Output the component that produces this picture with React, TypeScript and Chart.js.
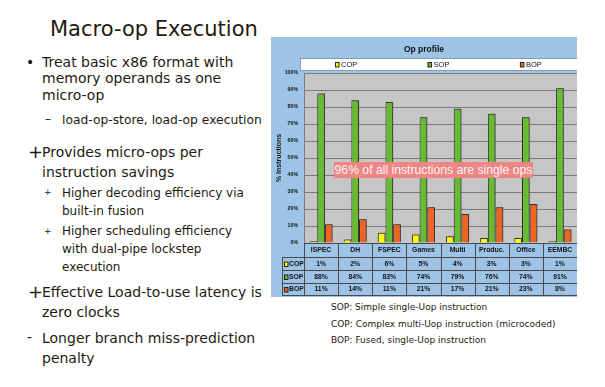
import React, { useEffect, useRef } from "react";
import { Chart, registerables } from "chart.js";

Chart.register(...registerables);

// ---- data ----
const categories = ["ISPEC", "DH", "FSPEC", "Games", "Multi", "Produc.", "Office", "EEMBC"];
const seriesLabels = ["COP", "SOP", "BOP"];
const copValues = [1, 2, 6, 5, 4, 3, 3, 1];
const sopValues = [88, 84, 83, 74, 79, 76, 74, 91];
const bopValues = [11, 14, 11, 21, 17, 21, 23, 8];
const yMin = 0;
const yMax = 100;
const yStep = 10;
const chartTitle = "Op profile";
const yAxisTitle = "% Instructions";
const calloutText = "96% of all instructions are single ops";

const seriesColors = ["#ffff00", "#66bb33", "#f06423"];
const FONT = "'Liberation Sans', Arial, sans-serif";

const panelPlugin = {
  id: "panelPlugin",
  beforeDraw(chart: any) {
    const { ctx, width, height, chartArea: ca } = chart;
    ctx.save();
    ctx.fillStyle = "#9dc3e6";
    ctx.fillRect(0, 0, width, height);
    ctx.fillStyle = "#c6c6c6";
    ctx.fillRect(ca.left, ca.top, ca.right - ca.left, ca.bottom - ca.top);
    // title
    ctx.fillStyle = "#111";
    ctx.font = `bold 8.5px ${FONT}`;
    ctx.textAlign = "center";
    ctx.textBaseline = "middle";
    ctx.fillText(chartTitle, width / 2, 13);
    // legend box
    const lx = 29, ly = 21, lw = width - lx, lh = 13;
    ctx.fillStyle = "#ffffff";
    ctx.fillRect(lx, ly, lw, lh);
    ctx.strokeStyle = "#8a9db0";
    ctx.lineWidth = 1;
    ctx.strokeRect(lx + 0.5, ly + 0.5, lw, lh - 1);
    ctx.font = `7.5px ${FONT}`;
    ctx.textAlign = "left";
    const ds = chart.data.datasets;
    for (let i = 0; i < ds.length; i++) {
      const cx = lx + (lw / ds.length) * (i + 0.5);
      const label = ds[i].label;
      const tw = ctx.measureText(label).width;
      const total = 5 + 1 + tw;
      const x0 = cx - total / 2;
      const yc = ly + lh / 2;
      ctx.fillStyle = ds[i].backgroundColor;
      ctx.fillRect(x0, yc - 2.5, 4, 5);
      ctx.strokeStyle = "#222";
      ctx.strokeRect(x0 + 0.5, yc - 2.5 + 0.5, 3.5, 4.5);
      ctx.fillStyle = "#111";
      ctx.fillText(label, x0 + 6, yc + 0.5);
    }
    ctx.restore();
  },
  beforeDatasetsDraw(chart: any) {
    const ctx = chart.ctx;
    ctx.save();
    ctx.shadowColor = "rgba(60,60,60,0.55)";
    ctx.shadowOffsetX = 1.5;
    ctx.shadowOffsetY = -1.5;
    ctx.shadowBlur = 0;
  },
  afterDatasetsDraw(chart: any) {
    chart.ctx.restore();
  },
  afterDraw(chart: any) {
    const { ctx, chartArea: ca, scales } = chart;
    const xs = scales.x;
    const n = chart.data.labels.length;
    const colW = (ca.right - ca.left) / n;
    const top = ca.bottom;
    const rowH = [14, 13, 13, 12];
    const rows: number[] = [top];
    for (const h of rowH) rows.push(rows[rows.length - 1] + h);
    const keyLeft = 11;
    ctx.save();
    ctx.strokeStyle = "#4a4a4a";
    ctx.lineWidth = 1;
    ctx.beginPath();
    ctx.moveTo(ca.left, Math.round(rows[0]) + 0.5);
    ctx.lineTo(ca.right, Math.round(rows[0]) + 0.5);
    for (let r = 1; r < rows.length; r++) {
      ctx.moveTo(keyLeft, Math.round(rows[r]) + 0.5);
      ctx.lineTo(ca.right, Math.round(rows[r]) + 0.5);
    }
    ctx.moveTo(keyLeft + 0.5, rows[1]);
    ctx.lineTo(keyLeft + 0.5, rows[rows.length - 1]);
    for (let i = 0; i <= n; i++) {
      const x = Math.round(xs.getPixelForValue(i) - colW / 2) + 0.5;
      ctx.moveTo(x, rows[0]);
      ctx.lineTo(x, rows[rows.length - 1]);
    }
    ctx.stroke();
    ctx.fillStyle = "#111";
    ctx.font = `bold 6.8px ${FONT}`;
    ctx.textAlign = "center";
    ctx.textBaseline = "middle";
    chart.data.labels.forEach((lab: string, i: number) => {
      ctx.fillText(lab, xs.getPixelForValue(i), (rows[0] + rows[1]) / 2 + 0.5);
    });
    const ds = chart.data.datasets;
    ds.forEach((d: any, r: number) => {
      const yc = (rows[r + 1] + rows[r + 2]) / 2 + 0.5;
      d.data.forEach((v: number, i: number) => {
        ctx.textAlign = "center";
        ctx.fillStyle = "#111";
        ctx.fillText(v + "%", xs.getPixelForValue(i), yc);
      });
      ctx.fillStyle = d.backgroundColor;
      ctx.fillRect(keyLeft + 2, yc - 2.5, 4, 5);
      ctx.strokeStyle = "#222";
      ctx.strokeRect(keyLeft + 2.5, yc - 2, 3.5, 4.5);
      ctx.fillStyle = "#111";
      ctx.textAlign = "left";
      ctx.fillText(d.label, keyLeft + 7, yc);
    });
    ctx.restore();
  },
};

function OpChart() {
  const ref = useRef<HTMLCanvasElement | null>(null);
  useEffect(() => {
    if (!ref.current) return;
    const values = [copValues, sopValues, bopValues];
    const chart = new Chart(ref.current, {
      type: "bar",
      data: {
        labels: categories,
        datasets: seriesLabels.map((label, i) => ({
          label,
          data: values[i],
          backgroundColor: seriesColors[i],
          borderColor: "#2a2a2a",
          borderWidth: 1,
          categoryPercentage: 0.675,
          barPercentage: 1.0,
        })),
      },
      options: {
        animation: false,
        responsive: false,
        devicePixelRatio: 1,
        layout: { padding: { left: 0, right: 0, top: 36, bottom: 54 } },
        plugins: {
          legend: { display: false },
          title: { display: false },
          tooltip: { enabled: false },
        },
        scales: {
          x: { display: false },
          y: {
            min: yMin,
            max: yMax,
            ticks: {
              stepSize: yStep,
              callback: (v: any) => v + "%",
              font: { size: 5.2, weight: "bold", family: FONT },
              color: "#111",
              padding: 6,
            },
            grid: { color: "#7a7a7a", lineWidth: 1, drawTicks: false },
            border: { color: "#7a7a7a" },
            title: {
              display: true,
              text: yAxisTitle,
              font: { size: 7, weight: "bold", family: FONT },
              color: "#111",
              padding: { top: 4, bottom: 0 },
            },
            afterFit: (s: any) => {
              s.width = 33;
            },
          },
        },
      },
      plugins: [panelPlugin],
    } as any);
    return () => chart.destroy();
  }, []);
  return <canvas ref={ref} width={306} height={260} style={{ display: "block", width: 306, height: 260 }} />;
}

type LineProps = { x: number; bl: number; size: number; text: string; family?: string };
function Line({ x, bl, size, text, family }: LineProps) {
  return (
    <div
      style={{
        position: "absolute",
        left: x,
        top: bl - 0.846 * size,
        fontSize: size,
        lineHeight: size + "px",
        whiteSpace: "nowrap",
        fontFamily: family || "'DejaVu Sans', Verdana, sans-serif",
      }}
    >
      {text}
    </div>
  );
}

export default function App() {
  return (
    <div
      style={{
        position: "absolute",
        left: 0,
        top: 0,
        width: 605,
        height: 387,
        background: "#ffffff",
        overflow: "hidden",
        color: "#1e1a10",
      }}
    >
      <Line x={50} bl={36.7} size={21} text="Macro-op Execution" />
      <Line x={26} bl={66.7} size={14} text="•" />
      <Line x={42} bl={66.7} size={14} text="Treat basic x86 format with" />
      <Line x={42} bl={83.3} size={14} text="memory operands as one" />
      <Line x={42} bl={100} size={14} text="micro-op" />
      <Line x={45} bl={123.5} size={12} text="–" />
      <Line x={62} bl={124.3} size={12.3} text="load-op-store, load-op execution" />
      <Line x={28} bl={158.4} size={18} text="+" />
      <Line x={42} bl={156.7} size={14} text="Provides micro-ops per" />
      <Line x={42} bl={176.7} size={14} text="instruction savings" />
      <Line x={44} bl={196} size={9} text="+" />
      <Line x={62} bl={196.7} size={12} text="Higher decoding efficiency via" />
      <Line x={62} bl={215} size={12} text="built-in fusion" />
      <Line x={44} bl={234.2} size={9} text="+" />
      <Line x={62} bl={235} size={12} text="Higher scheduling efficiency" />
      <Line x={62} bl={252.7} size={12} text="with dual-pipe lockstep" />
      <Line x={62} bl={270.7} size={12} text="execution" />
      <Line x={28} bl={298} size={18} text="+" />
      <Line x={42} bl={296.7} size={14} text="Effective Load-to-use latency is" />
      <Line x={42} bl={316.7} size={14} text="zero clocks" />
      <Line x={27} bl={342.2} size={14} text="-" />
      <Line x={42} bl={343.3} size={14} text="Longer branch miss-prediction" />
      <Line x={42} bl={362.7} size={14} text="penalty" />

      <div style={{ position: "absolute", left: 271, top: 37, width: 306, height: 260 }}>
        <OpChart />
      </div>
      <div
        style={{
          position: "absolute",
          left: 334,
          top: 162,
          width: 199,
          height: 16,
          background: "#ef8585",
          color: "#fff4f4",
          fontFamily: FONT,
          fontSize: 12.2,
          lineHeight: "16px",
          textAlign: "center",
          whiteSpace: "nowrap",
        }}
      >
        {calloutText}
      </div>

      <Line x={331} bl={310.7} size={9} text="SOP: Simple single-Uop instruction" />
      <Line x={331} bl={327.3} size={9} text="COP: Complex multi-Uop instruction (microcoded)" />
      <Line x={331} bl={344} size={9} text="BOP: Fused, single-Uop instruction" />
    </div>
  );
}
